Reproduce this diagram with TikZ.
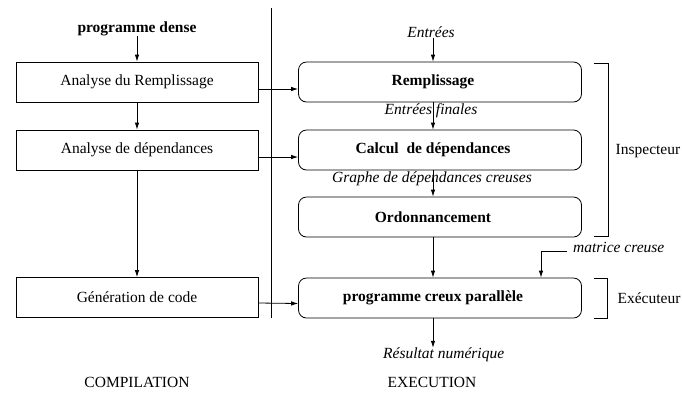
\documentclass[tikz,border=0pt]{standalone}
\usepackage{fontspec}
\setmainfont{Liberation Serif}
\usetikzlibrary{arrows.meta}
\begin{document}
\begin{tikzpicture}[x=1pt,y=-1pt,
  txt/.style={inner sep=0pt, font=\fontsize{15.5}{18}\selectfont},
  tag/.style={inner sep=0pt, font=\fontsize{15.5}{18}\selectfont\itshape},
  lbox/.style={draw, line width=0.8pt, minimum width=242pt, minimum height=40pt,
    inner sep=0pt, font=\fontsize{15.5}{18}\selectfont},
  rbox/.style={draw, line width=0.8pt, rounded corners=8pt, minimum width=283pt,
    minimum height=40pt, inner sep=0pt,
    label={[xshift=-7pt, inner sep=0pt, font=\fontsize{15.5}{18}\selectfont\bfseries]center:#1}},
  flow/.style={line width=0.8pt, -{Latex[length=7pt,width=4.5pt]}},
  plain/.style={line width=0.8pt},
]
\useasboundingbox (0,0) rectangle (682,392);

% compilation column
\node[txt, font=\fontsize{15.5}{18}\selectfont\bfseries] (dense) at (137,29) {programme dense};
\node[lbox] (ar) at (137,82) {Analyse du Remplissage};
\node[lbox] (ad) at (137,150) {Analyse de dépendances};
\node[lbox] (gc) at (137,297.5) {Génération de code};
\node[txt] (comp) at (137,382) {COMPILATION};

\draw[flow] (dense.south) -- (ar.north);
\draw[flow] (ar.south) -- (ad.north);
\draw[flow] (ad.south) -- (gc.north);

% separator between the two phases
\coordinate (dtop) at (271,8);
\coordinate (dbot) at (271,318);
\draw[plain] (dtop) -- (dbot);

% execution column
\coordinate (axis) at (433,0);
\coordinate (mcx) at (541,0);
\node[tag] (ent) at (431,32) {Entrées};
\node[rbox=Remplissage] (rem) at (440,82) {};
\node[tag] (entf) at (431,111) {Entrées finales};
\node[rbox={Calcul~ de dépendances}] (cal) at (440,150) {};
\node[tag] (gra) at (432,179) {Graphe de dépendances creuses};
\node[rbox=Ordonnancement] (ord) at (440,217) {};
\node[rbox={programme creux parallèle}] (par) at (440,298) {};
\node[tag, anchor=west] (mat) at (573,247) {matrice creuse};
\coordinate (mc) at (567,251);
\node[tag, anchor=west] (res) at (383,355) {Résultat numérique};
\node[txt] (exe) at (432,382) {EXECUTION};

\draw[flow] (ent.south -| axis) -- (rem.north -| axis);
\draw[flow] (rem.south -| axis) -- (cal.north -| axis);
\draw[flow] (cal.south -| axis) -- (ord.north -| axis);
\draw[flow] (ord.south -| axis) -- (par.north -| axis);
\draw[flow] (mc) -| (par.north -| mcx);
\draw[flow] (par.south -| axis) -- (res.north -| axis);

% links from compilation to execution
\draw[flow] ([yshift=-7pt]ar.east) -- ([yshift=-7pt]rem.west);
\draw[flow] ([yshift=-7pt]ad.east) -- ([yshift=-7pt]cal.west);
\draw[flow] ([yshift=-5.5pt]gc.east) -- ([yshift=-5.5pt]par.west);

% brackets
\coordinate (i1) at (594,63);
\coordinate (i2) at (608,63);
\coordinate (i3) at (608,236);
\coordinate (i4) at (594,236);
\draw[plain] (i1) -- (i2) -- (i3) -- (i4);
\node[txt] (insp) at (648,151) {Inspecteur};

\coordinate (e1) at (594,278);
\coordinate (e2) at (607,278);
\coordinate (e3) at (607,318);
\coordinate (e4) at (594,318);
\draw[plain] (e1) -- (e2) -- (e3) -- (e4);
\node[txt] (exec) at (649,298) {Exécuteur};
\end{tikzpicture}
\end{document}
